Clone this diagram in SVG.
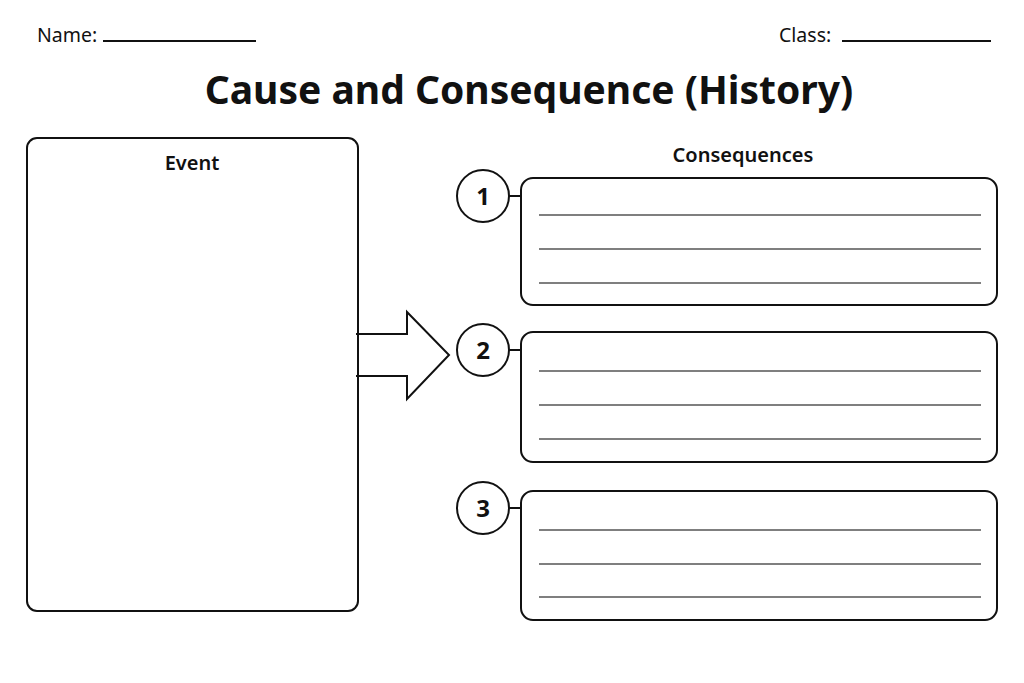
<svg xmlns="http://www.w3.org/2000/svg" width="1024" height="683" viewBox="0 0 1024 683">
<style>
.t{font-family:"Noto Sans","Liberation Sans",sans-serif;fill:#111}
.box{fill:#fff;stroke:#111;stroke-width:2}
.wl{stroke:#555;stroke-width:1.5}
.num{font-family:"Noto Sans","Liberation Sans",sans-serif;font-weight:bold;font-size:24px;fill:#111;text-anchor:middle}
.ln{stroke:#111;stroke-width:2}
</style>
<rect width="1024" height="683" fill="#fff"/>
<g id="header">
<text class="t" x="37" y="42" font-size="19.5">Name:</text>
<line x1="103" y1="41" x2="256" y2="41" stroke="#111" stroke-width="2"/>
<text class="t" x="779" y="42" font-size="19.5">Class:</text>
<line x1="842" y1="41" x2="991" y2="41" stroke="#111" stroke-width="2"/>
<text class="t" x="529" y="104" font-size="39" font-weight="bold" text-anchor="middle">Cause and Consequence (History)</text>
</g>
<g id="arrow">
<path fill="#fff" stroke="#111" stroke-width="2" d="M356,334 H407 V312 L449,355 L407,399 V376 H356"/>
</g>
<g id="event">
<rect fill="none" stroke="#111" stroke-width="2" x="27" y="138" width="331" height="473" rx="10"/>
<text class="t" x="192" y="170" font-size="20" font-weight="600" text-anchor="middle">Event</text>
</g>
<text class="t" x="743" y="162" font-size="20" font-weight="600" text-anchor="middle">Consequences</text>
<g id="connectors">
<line class="ln" x1="509" y1="196" x2="521" y2="196"/>
<line class="ln" x1="509" y1="350" x2="521" y2="350"/>
<line class="ln" x1="509" y1="508" x2="521" y2="508"/>
</g>
<g id="c1">
<circle class="box" cx="483" cy="196" r="26"/>
<text class="num" x="483" y="205">1</text>
<rect class="box" x="521" y="178" width="476" height="127" rx="12"/>
<line class="wl" x1="539" y1="215" x2="981" y2="215"/>
<line class="wl" x1="539" y1="249" x2="981" y2="249"/>
<line class="wl" x1="539" y1="283" x2="981" y2="283"/>
</g>
<g id="c2">
<circle class="box" cx="483" cy="350" r="26"/>
<text class="num" x="483" y="359">2</text>
<rect class="box" x="521" y="332" width="476" height="130" rx="12"/>
<line class="wl" x1="539" y1="371" x2="981" y2="371"/>
<line class="wl" x1="539" y1="405" x2="981" y2="405"/>
<line class="wl" x1="539" y1="439" x2="981" y2="439"/>
</g>
<g id="c3">
<circle class="box" cx="483" cy="508" r="26"/>
<text class="num" x="483" y="517">3</text>
<rect class="box" x="521" y="491" width="476" height="129" rx="12"/>
<line class="wl" x1="539" y1="530" x2="981" y2="530"/>
<line class="wl" x1="539" y1="564" x2="981" y2="564"/>
<line class="wl" x1="539" y1="597" x2="981" y2="597"/>
</g>
</svg>
